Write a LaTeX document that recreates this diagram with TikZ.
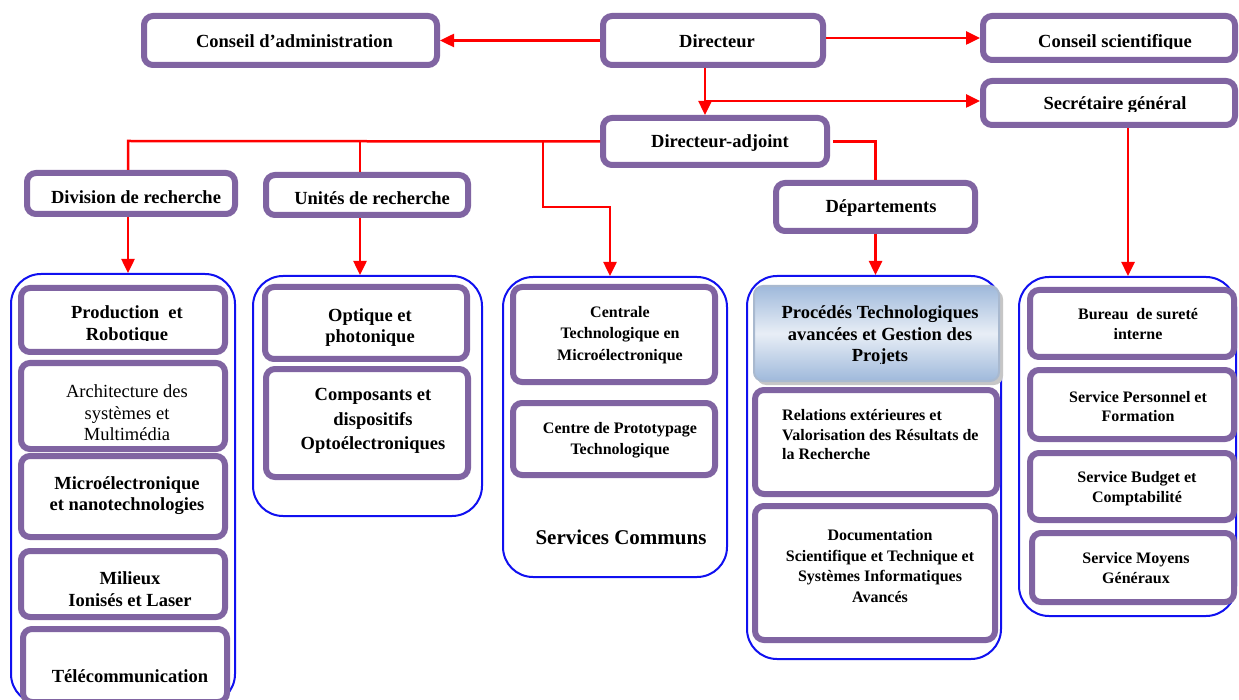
\documentclass[tikz,border=0pt]{standalone}
\usepackage{fontspec}
\setmainfont{Liberation Serif}
\usetikzlibrary{arrows.meta}
\definecolor{pur}{HTML}{8064A2}
\definecolor{cblue}{HTML}{1010F0}
\definecolor{pedge}{HTML}{9FB9DB}
\definecolor{plight}{HTML}{E8EEF6}
\definecolor{pline}{HTML}{A9B9CF}
\begin{document}
\begin{tikzpicture}[x=1pt,y=-1pt,
  pbox/.style={draw=pur, line width=6pt, rounded corners=9pt, fill=white, inner sep=0pt},
  cont/.style={draw=cblue, line width=2pt, rounded corners=30pt, inner sep=0pt},
  ttop/.style={font=\fontsize{18.5}{21.5}\selectfont\bfseries, align=center, inner sep=0pt},
  tmid/.style={font=\fontsize{18.5}{21.5}\selectfont\bfseries, align=center, inner sep=0pt},
  tsm/.style={font=\fontsize{16}{21.5}\selectfont\bfseries, align=center, inner sep=0pt},
  tsr/.style={font=\fontsize{16}{19.5}\selectfont\bfseries, align=center, inner sep=0pt},
  rline/.style={draw=red, line width=2.5pt},
  rarr/.style={rline, -{Triangle[length=14pt,width=13pt]}}
]
\clip (0,0) rectangle (1239,700);
\fill[white] (0,0) rectangle (1239,700);

% top level boxes
\node[pbox, minimum width=293pt, minimum height=49pt] (ca) at (290.5,40.5) {};
\node[ttop] (cat) at (294.5,41) {Conseil d’administration};
\node[pbox, minimum width=220pt, minimum height=49pt] (dir) at (713,40.5) {};
\node[ttop] (dirt) at (717,41) {Directeur};
\node[pbox, minimum width=252pt, minimum height=44pt] (cs) at (1109,38) {};
\begin{scope}
  \clip (990,20) rectangle (1230,48.3);
  \node[ttop] (cst) at (1115,42.5) {Conseil scientifique};
\end{scope}
\node[pbox, minimum width=252pt, minimum height=44pt] (sg) at (1109,103) {};
\begin{scope}
  \clip (990,85) rectangle (1230,111.3);
  \node[ttop] (sgt) at (1115,105.5) {Secrétaire général};
\end{scope}
\node[pbox, minimum width=224pt, minimum height=47pt] (da) at (715,141.5) {};
\node[ttop] (dat) at (720,143) {Directeur-adjoint};
\node[pbox, minimum width=208pt, minimum height=41pt] (div) at (131,193.5) {};
\node[ttop] (divt) at (136,197) {Division de recherche};
\node[pbox, minimum width=202pt, minimum height=40pt] (ur) at (367,195) {};
\node[ttop] (urt) at (372,198) {Unités de recherche};
\node[pbox, minimum width=199pt, minimum height=48pt] (dep) at (875.5,207) {};
\node[ttop] (dept) at (881,208.5) {Départements};

% containers
\node[cont, minimum width=224pt, minimum height=430pt] (c1) at (123,489) {};
\node[cont, minimum width=229pt, minimum height=240pt] (c2) at (367.5,396) {};
\node[cont, minimum width=224pt, minimum height=300pt] (c3) at (615,427) {};
\node[cont, minimum width=254pt, minimum height=383pt] (c4) at (874,467.5) {};
\node[cont, minimum width=217pt, minimum height=339pt] (c5) at (1127.5,446.5) {};

% column 1
\node[pbox, minimum width=204pt, minimum height=64pt] (pr) at (123,320) {};
\begin{scope}
  \clip (25,292) rectangle (221,340.8);
  \node[tmid] (prt) at (127,325) {Production\ \ et\\Robotique};
\end{scope}
\node[pbox, minimum width=204pt, minimum height=86pt] (ar) at (123,406) {};
\begin{scope}
  \clip (25,367) rectangle (221,440);
  \node[tmid, font=\fontsize{18.5}{21.5}\selectfont\mdseries] (art) at (127,413) {Architecture des\\systèmes et\\Multimédia};
\end{scope}
\node[pbox, minimum width=204pt, minimum height=81pt] (mi) at (123,496.5) {};
\node[tmid] (mit) at (127,495.5) {Microélectronique\\et nanotechnologies};
\node[pbox, minimum width=204pt, minimum height=66pt] (ml) at (123,584) {};
\node[tmid] (mlt) at (130,589) {Milieux\\Ionisés et Laser};
\node[pbox, minimum width=204pt, minimum height=73pt] (te) at (125,665.5) {};
\node[tmid] (tet) at (130,676) {Télécommunication};

% column 2
\node[pbox, minimum width=202pt, minimum height=72pt] (op) at (366,323) {};
\node[tmid] (opt) at (370,327.5) {Optique et\\photonique};
\node[pbox, minimum width=202pt, minimum height=108pt] (co) at (367,423) {};
\node[tmid, font=\fontsize{18.5}{24.5}\selectfont\bfseries] (cot) at (373,421) {Composants et\\dispositifs\\Optoélectroniques};

% column 3
\node[pbox, minimum width=202pt, minimum height=95pt] (ct) at (614,334.5) {};
\node[tsm] (ctt) at (620,335) {Centrale\\Technologique en\\Microélectronique};
\node[pbox, minimum width=202pt, minimum height=72pt] (cp) at (614,439) {};
\node[tsm] (cpt) at (620,440) {Centre de Prototypage\\Technologique};
\node[font=\fontsize{21}{25}\selectfont\bfseries, inner sep=0pt] (sct) at (621,537) {Services Communs};

% column 4
\fill[gray!45, rounded corners=9pt] (757,290) rectangle (1003,385);
\node[draw=pline, line width=2pt, rounded corners=9pt, inner sep=0pt,
      minimum width=245pt, minimum height=95pt,
      top color=pedge, bottom color=pedge, middle color=plight] (pt) at (876.5,333.5) {};
\begin{scope}
  \clip (760,290) rectangle (995,363.5);
  \node[tmid] (ptt) at (880,336) {Procédés Technologiques\\avancées et Gestion des\\Projets};
\end{scope}
\node[pbox, minimum width=242pt, minimum height=104pt] (re) at (876,442) {};
\node[tsr, align=left, anchor=west] (ret) at (782,435) {Relations extérieures et\\Valorisation des Résultats de\\la Recherche};
\node[pbox, minimum width=240pt, minimum height=134pt] (do) at (875,573) {};
\node[tsr, font=\fontsize{16}{20.7}\selectfont\bfseries] (dot) at (880,566) {Documentation\\Scientifique et Technique et\\Systèmes Informatiques\\Avancés};

% column 5
\node[pbox, minimum width=204pt, minimum height=67pt] (bu) at (1132,323.5) {};
\node[tsr] (but) at (1138,324) {Bureau\ \ de sureté\\interne};
\node[pbox, minimum width=204pt, minimum height=69pt] (sp) at (1132,404.5) {};
\node[tsr] (spt) at (1138,406.5) {Service Personnel et\\Formation};
\node[pbox, minimum width=204pt, minimum height=67pt] (sb) at (1132,486.5) {};
\node[tsr] (sbt) at (1137,488.5) {Service Budget et\\Comptabilité};
\node[pbox, minimum width=202pt, minimum height=69pt] (sm) at (1133,567.5) {};
\node[tsr] (smt) at (1136,568) {Service Moyens\\Généraux};

% connectors
\coordinate (j) at (705,101);
\coordinate (b1) at (128,141);
\coordinate (b2) at (360,141);
\coordinate (b3) at (543,141);
\coordinate (k3) at (610,207);
\coordinate (b5) at (1128,128);
\draw[rarr] (dir.west) -- (ca.east);
\draw[rarr] (dir.east |- cs.west) -- (cs.west);
\draw[rarr] (dir.south -| j) -- (j |- da.north);
\draw[rarr] (j) -- (j -| sg.west);
\draw[rline] (da.west) -- (b1) -- (b1 |- div.north);
\draw[rline] (b2) -- (b2 |- ur.north);
\draw[rarr] (b3) |- (k3) -- (k3 |- c3.north);
\draw[rarr] (b1 |- div.south) -- (b1 |- c1.north);
\draw[rarr] (b2 |- ur.south) -- (b2 |- c2.north);
\draw[rline] ([xshift=3pt]da.east) -| (dep.north);
\draw[rarr] (dep.south) -- (dep.south |- c4.north);
\draw[rarr] (b5 |- sg.south) -- (b5 |- c5.north);
\end{tikzpicture}
\end{document}
